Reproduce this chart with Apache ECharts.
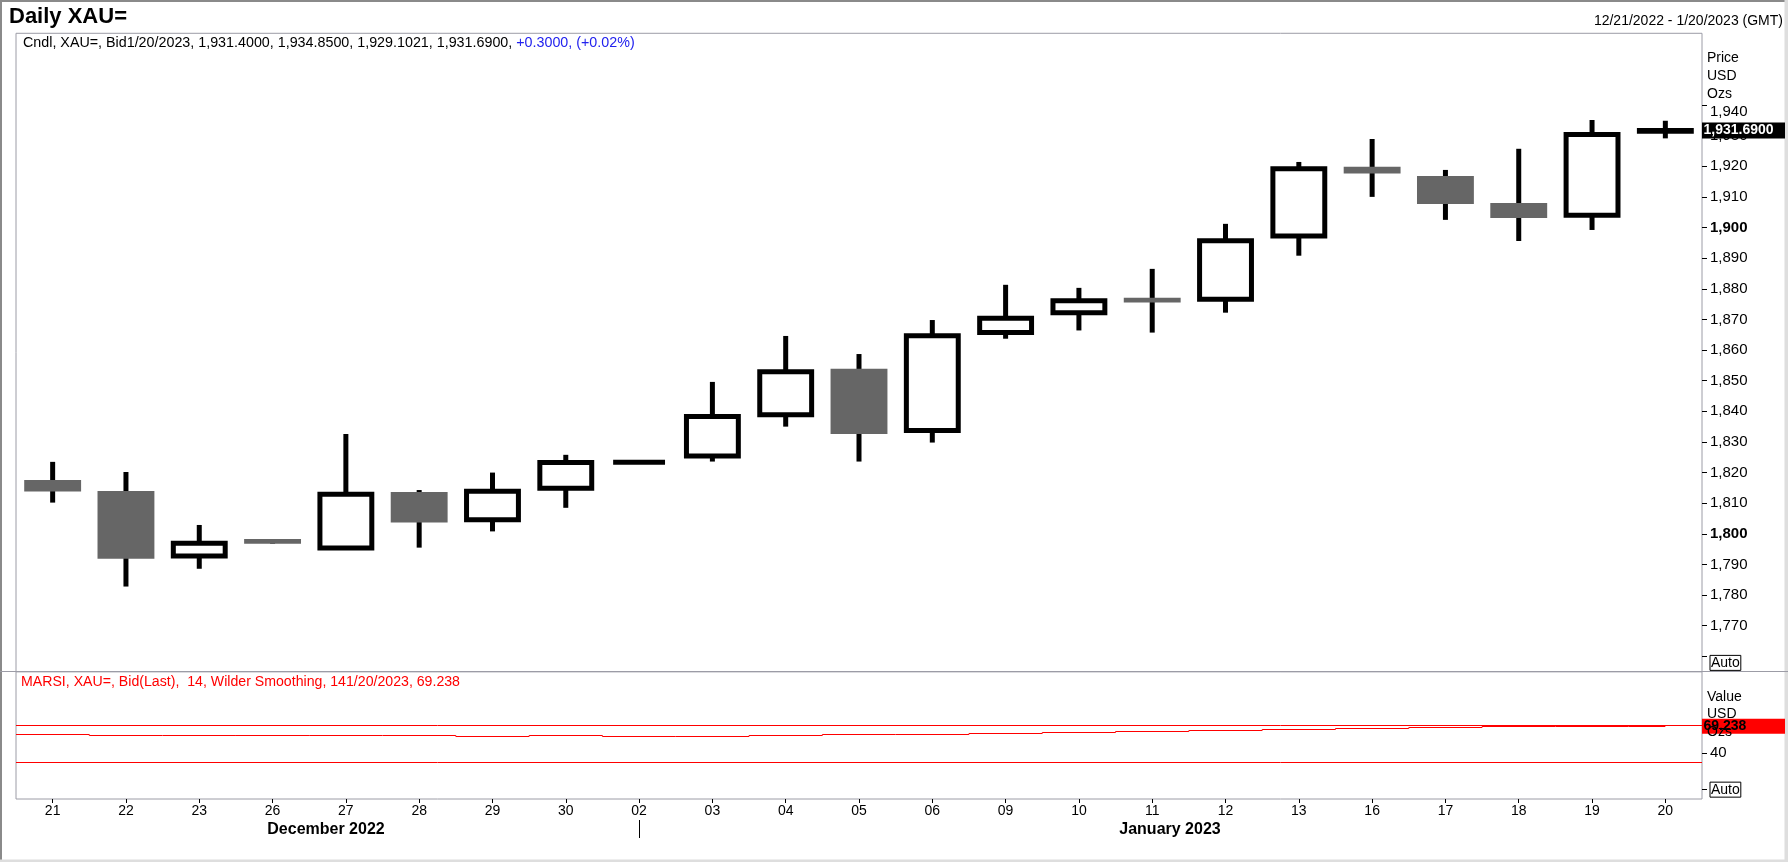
<!DOCTYPE html>
<html><head><meta charset="utf-8">
<script src="https://cdn.jsdelivr.net/npm/echarts@6/dist/echarts.min.js"></script>
<style>html,body{margin:0;padding:0;background:#fff}#c{width:1788px;height:862px}</style>
</head><body><div id="c"></div>
<script>
// ---- data ----
const dates  = ['21','22','23','26','27','28','29','30','02','03','04','05','06','09','10','11','12','13','16','17','18','19','20'];
const opens  = [1817.6,1814.0,1792.8,1798.3,1795.4,1813.7,1804.6,1814.9,1823.4,1825.4,1838.9,1853.9,1833.7,1865.7,1872.2,1877.1,1876.6,1897.2,1919.8,1916.8,1908.0,1904.0,1931.40];
const closes = [1813.8,1791.9,1796.9,1796.8,1812.9,1803.7,1813.9,1823.3,1823.4,1838.3,1852.9,1832.6,1864.7,1870.4,1876.1,1875.5,1895.7,1919.2,1917.6,1907.7,1903.1,1930.4,1931.69];
const lows   = [1810.2,1782.8,1788.6,1796.8,1795.4,1795.5,1800.8,1808.5,1823.4,1823.6,1835.0,1823.6,1829.8,1863.7,1866.4,1865.7,1872.2,1890.8,1910.0,1902.5,1895.6,1899.2,1929.1021];
const highs  = [1823.5,1820.2,1802.9,1798.3,1832.6,1814.3,1820.0,1825.8,1823.4,1849.6,1864.6,1858.7,1869.8,1881.3,1880.3,1886.5,1901.2,1921.4,1928.9,1918.8,1925.7,1935.1,1934.85];
const rsiValues = [60.4,59.3,59.3,59.3,59.3,59.3,58.2,59.3,58.2,58.2,59.3,60.4,60.4,61.5,62.6,63.7,64.8,65.9,66.9,68.0,69.0,69.1,69.238];
const priceTicks = [1760,1770,1780,1790,1800,1810,1820,1830,1840,1850,1860,1870,1880,1890,1900,1910,1920,1930,1940];
const boldTicks = [1800,1900];
const rsiTicks = [0,40];
const rsiLevels = [70,30];
const lastChange = 0.3;
const lastPct = 0.02;
const lastRsi = 69.238;
const lastDate = '1/20/2023';
const rangeText = '12/21/2022 - 1/20/2023 (GMT)';

// ---- helpers ----
const FONT = "'Liberation Sans', Arial, sans-serif";
function comma(s){ const p = String(s).split('.'); p[0] = p[0].replace(/\B(?=(\d{3})+(?!\d))/g, ','); return p.join('.'); }
function f4(v){ return comma(v.toFixed(4)); }
const N = dates.length;
const L = N - 1;

const chart = echarts.init(document.getElementById('c'));

const candleData = dates.map((d,i)=>[i, opens[i], closes[i], lows[i], highs[i]]);
const rsiData = dates.map((d,i)=>[i, rsiValues[i]]);

function renderCandle(params, api){
  const i = api.value(0), o = api.value(1), c = api.value(2), lo = api.value(3), hi = api.value(4);
  const pO = api.coord([i,o]), pC = api.coord([i,c]), pL = api.coord([i,lo]), pH = api.coord([i,hi]);
  const band = api.size([1,0])[0];
  const bw = band * 0.776;
  const x = pO[0];
  const ch = [{type:'line', shape:{x1:x, y1:pH[1], x2:x, y2:pL[1]}, style:{stroke:'#000', lineWidth:5}}];
  if (c >= o){
    const top = Math.min(pO[1], pC[1]), bot = Math.max(pO[1], pC[1]);
    ch.push({type:'rect', shape:{x:x-bw/2+2.5, y:top, width:bw-5, height:bot-top}, style:{fill:'#fff', stroke:'#000', lineWidth:5}});
  } else {
    ch.push({type:'rect', shape:{x:x-bw/2, y:pO[1], width:bw, height:pC[1]-pO[1]}, style:{fill:'#666666'}});
  }
  return {type:'group', children:ch};
}

function renderRsi(params, api){
  const i = api.value(0), v = api.value(1);
  const p = api.coord([i, v]);
  const band = api.size([1,0])[0];
  const y = Math.round(p[1]) + 0.5;
  const x1 = p[0] - band/2;
  const x2 = (i === L) ? p[0] : p[0] + band/2;
  const ch = [{type:'line', shape:{x1:x1, y1:y, x2:x2, y2:y}, style:{stroke:'#ff0000', lineWidth:1}}];
  if (i > 0){
    const pp = api.coord([i-1, rsiValues[i-1]]);
    const yp = Math.round(pp[1]) + 0.5;
    ch.push({type:'line', shape:{x1:x1, y1:yp, x2:x1, y2:y}, style:{stroke:'#ff0000', lineWidth:1}});
  }
  return {type:'group', children:ch};
}

const labelBase = {color:'#000', fontSize:15, fontFamily:FONT};
const richY = {
  b:{fontWeight:'bold', fontSize:15, color:'#000', fontFamily:FONT},
  n:{fontSize:15, color:'#000', fontFamily:FONT},
  sp:{fontSize:1, lineHeight:13},
  a:{borderColor:'#000', borderWidth:1, padding:[1,1,0,1], fontSize:14, color:'#000', fontFamily:FONT, lineHeight:13}
};

const option = {
  animation:false,
  backgroundColor:'#fff',
  grid:[
    {left:16, right:86, top:33.3, height:638.4, show:true, borderColor:'#9c9ca6', borderWidth:1},
    {left:16, right:86, top:671.7, height:127.3, show:true, borderColor:'#9c9ca6', borderWidth:1}
  ],
  xAxis:[
    {type:'category', gridIndex:0, data:dates, boundaryGap:true, axisLine:{show:false, onZero:false}, axisTick:{show:false}, axisLabel:{show:false}, splitLine:{show:false}},
    {type:'category', gridIndex:1, data:dates, boundaryGap:true, position:'bottom', axisLine:{show:false, onZero:false},
     axisTick:{show:true, alignWithLabel:true, interval:0, length:4, lineStyle:{color:'#000'}},
     axisLabel:{interval:0, margin:5, color:'#000', fontSize:14, fontFamily:FONT}, splitLine:{show:false}}
  ],
  yAxis:[
    {type:'value', gridIndex:0, position:'right', min:1755, max:1963.4, splitLine:{show:false}, axisLine:{show:false},
     axisTick:{show:true, length:5, customValues:priceTicks, lineStyle:{color:'#000'}},
     axisLabel:Object.assign({customValues:priceTicks, margin:8, rich:richY,
       formatter:function(v){
         if (v===priceTicks[0]) return '{sp| }\n{a|Auto}';
         if (v===priceTicks[priceTicks.length-1]) return '{sp| }\n{n|'+comma(v)+'}';
         if (boldTicks.indexOf(v)>=0) return '{b|'+comma(v)+'}';
         return comma(v); }}, labelBase)},
    {type:'value', gridIndex:1, position:'right', min:-10.2, max:128.7, splitLine:{show:false}, axisLine:{show:false},
     axisTick:{show:true, length:5, customValues:rsiTicks, lineStyle:{color:'#000'}},
     axisLabel:Object.assign({customValues:rsiTicks, margin:8, rich:richY,
       formatter:function(v){ return v===rsiTicks[0] ? '{a|Auto}' : String(v); }}, labelBase)}
  ],
  series:[
    {type:'custom', name:'Cndl', xAxisIndex:0, yAxisIndex:0, data:candleData, encode:{x:0, y:[1,2,3,4]}, renderItem:renderCandle, silent:true},
    {type:'line', xAxisIndex:1, yAxisIndex:1, data:rsiValues, showSymbol:false, lineStyle:{opacity:0}, silent:true,
     markLine:{silent:true, symbol:['none','none'], label:{show:false}, lineStyle:{color:'#ff0000', width:1, type:'solid'}, data:rsiLevels.map(v=>({yAxis:v}))}},
    {type:'custom', name:'MARSI', xAxisIndex:1, yAxisIndex:1, data:rsiData, encode:{x:0, y:1}, renderItem:renderRsi, silent:true, z:3}
  ]
};
chart.setOption(option);

// ---- annotations (text, frame, last-value boxes) ----
const yClose = chart.convertToPixel({yAxisIndex:0}, closes[L]);
const yRsi = chart.convertToPixel({yAxisIndex:1}, lastRsi);
const xJan = chart.convertToPixel({xAxisIndex:1}, '02');
const headerBlack = 'Cndl, XAU=, Bid' + lastDate + ', ' + f4(opens[L]) + ', ' + f4(highs[L]) + ', ' + f4(lows[L]) + ', ' + f4(closes[L]) + ', ';
const headerBlue = '+' + lastChange.toFixed(4) + ', (+' + lastPct.toFixed(2) + '%)';
function txt(x, y, s, extra){ return {type:'text', x:x, y:y, silent:true, z:112, style:Object.assign({text:s, fontSize:14, fontFamily:FONT, fill:'#000', verticalAlign:'middle', align:'left'}, extra||{})}; }

const g = [
  {type:'rect', shape:{x:0, y:0, width:1788, height:2}, style:{fill:'#8a8a8a'}, silent:true, z:100},
  {type:'rect', shape:{x:0, y:0, width:2, height:862}, style:{fill:'#8a8a8a'}, silent:true, z:100},
  {type:'rect', shape:{x:0, y:859.5, width:1788, height:2.5}, style:{fill:'#dedede'}, silent:true, z:100},
  {type:'rect', shape:{x:1784.5, y:0, width:3.5, height:862}, style:{fill:'#dedede'}, silent:true, z:100},
  {type:'line', shape:{x1:0, y1:671.5, x2:1788, y2:671.5}, style:{stroke:'#9c9ca6', lineWidth:1}, silent:true, z:100},
  txt(9, 17, 'Daily XAU=', {fontSize:22, fontWeight:'bold'}),
  txt(1783, 21, rangeText, {align:'right'}),
  {type:'text', x:23, y:43, silent:true, z:112, style:{text:'{k|'+headerBlack+'}{u|'+headerBlue+'}', verticalAlign:'middle',
     rich:{k:{fontSize:14.3, fontFamily:FONT, fill:'#000'}, u:{fontSize:14.3, fontFamily:FONT, fill:'#2222ee'}}}},
  txt(21, 682.5, 'MARSI, XAU=, Bid(Last),  14, Wilder Smoothing, 14' + lastDate + ', ' + lastRsi.toFixed(3), {fill:'#ff0000', fontSize:14.15}),
  txt(1707, 58.3, 'Price'), txt(1707, 76.3, 'USD'), txt(1707, 94.3, 'Ozs'),
  txt(1707, 697.3, 'Value'), txt(1707, 714.5, 'USD'), txt(1707, 732.5, 'Ozs'),
  {type:'rect', shape:{x:1702, y:yClose-8, width:83, height:16}, style:{fill:'#000'}, silent:true, z:110},
  txt(1703.5, yClose, comma(closes[L].toFixed(4)), {fill:'#fff', fontWeight:'bold'}),
  {type:'rect', shape:{x:1702, y:yRsi-7.5, width:83, height:15}, style:{fill:'#ff0000'}, silent:true, z:110},
  txt(1703.5, yRsi, lastRsi.toFixed(3), {fill:'#000', fontWeight:'bold'}),
  txt(326, 829.5, 'December 2022', {fontWeight:'bold', fontSize:16, align:'center'}),
  txt(1170, 829.5, 'January 2023', {fontWeight:'bold', fontSize:16, align:'center'}),
  {type:'line', shape:{x1:Math.round(xJan)+0.5, y1:820, x2:Math.round(xJan)+0.5, y2:838}, style:{stroke:'#000', lineWidth:1}, silent:true, z:100}
];
chart.setOption({graphic:g});
</script></body></html>
